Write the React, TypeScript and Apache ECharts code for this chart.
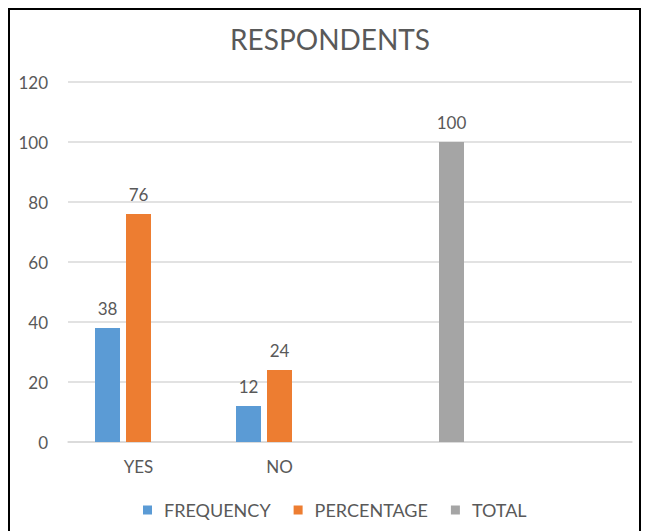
import React, { useEffect, useRef } from "react";
import * as echarts from "echarts";

const categories = ["YES", "NO", "", ""];
const frequency = [38, 12, "-", "-"];
const percentage = [76, 24, "-", "-"];
const total = ["-", "-", 100, "-"];
const yTicks = { min: 0, max: 120, interval: 20 };

const FONT = "Lato, 'Open Sans', sans-serif";
const TEXT = "#595959";

export default function App() {
  const ref = useRef<HTMLDivElement>(null);

  useEffect(() => {
    if (!ref.current) return;
    const chart = echarts.init(ref.current, undefined, { renderer: "svg" });
    const label = {
      show: true,
      position: "top" as const,
      distance: 11,
      color: TEXT,
      fontSize: 17,
      fontFamily: FONT,
    };
    chart.setOption({
      animation: false,
      textStyle: { fontFamily: FONT },
      title: {
        text: "RESPONDENTS",
        left: 215,
        top: 10,
        textStyle: { color: TEXT, fontSize: 28, fontWeight: "normal", fontFamily: FONT },
      },
      legend: {
        top: 486,
        left: 128,
        itemWidth: 9,
        itemHeight: 9,
        itemGap: 23,
        icon: "rect",
        textStyle: { color: TEXT, fontSize: 18, fontFamily: FONT, padding: [0, 0, 0, 7] },
        data: ["FREQUENCY", "PERCENTAGE", "TOTAL"],
      },
      grid: { left: 58, right: 7, top: 72, bottom: 94 },
      xAxis: {
        type: "category",
        data: categories,
        axisLine: { show: true, lineStyle: { color: "#D9D9D9", width: 1.5 } },
        axisTick: { show: false },
        axisLabel: { color: TEXT, fontSize: 17, fontFamily: FONT, margin: 16 },
      },
      yAxis: {
        type: "value",
        min: yTicks.min,
        max: yTicks.max,
        interval: yTicks.interval,
        axisLine: { show: false },
        axisTick: { show: false },
        axisLabel: { color: TEXT, fontSize: 17, fontFamily: FONT, margin: 20 },
        splitLine: { lineStyle: { color: "#D9D9D9", width: 1.5 } },
      },
      series: [
        {
          name: "FREQUENCY",
          type: "bar",
          data: frequency,
          barWidth: 25,
          barGap: "24%",
          itemStyle: { color: "#5B9BD5" },
          label,
        },
        {
          name: "PERCENTAGE",
          type: "bar",
          data: percentage,
          barWidth: 25,
          barGap: "24%",
          itemStyle: { color: "#ED7D31" },
          label,
        },
        {
          name: "TOTAL",
          type: "bar",
          data: total,
          barWidth: 25,
          barGap: "24%",
          itemStyle: { color: "#A5A5A5" },
          label,
        },
      ],
    });
    return () => chart.dispose();
  }, []);

  return (
    <div
      style={{
        width: 633,
        height: 530,
        border: "2px solid #000",
        boxSizing: "border-box",
        background: "#fff",
      }}
    >
      <div ref={ref} style={{ width: 629, height: 526 }} />
    </div>
  );
}
